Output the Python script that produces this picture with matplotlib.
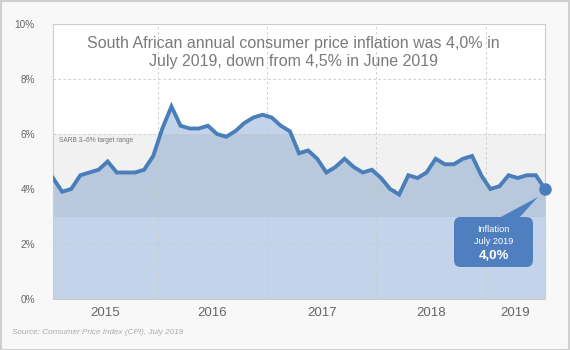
import matplotlib
matplotlib.use("Agg")
import matplotlib.pyplot as plt
from matplotlib.patches import Rectangle, FancyBboxPatch, Polygon
import numpy as np

plt.rcParams['font.family'] = ['Liberation Sans', 'DejaVu Sans']

# Monthly CPI inflation, Jan 2015 .. Jul 2019 (%)
months = [f"{y}-{m:02d}" for y in range(2015, 2020) for m in range(1, 13)][:55]
inflation = [4.4, 3.9, 4.0, 4.5, 4.6, 4.7, 5.0, 4.6, 4.6, 4.6, 4.7, 5.2,
             6.2, 7.0, 6.3, 6.2, 6.2, 6.3, 6.0, 5.9, 6.1, 6.4, 6.6, 6.7,
             6.6, 6.3, 6.1, 5.3, 5.4, 5.1, 4.6, 4.8, 5.1, 4.8, 4.6, 4.7,
             4.4, 4.0, 3.8, 4.5, 4.4, 4.6, 5.1, 4.9, 4.9, 5.1, 5.2, 4.5,
             4.0, 4.1, 4.5, 4.4, 4.5, 4.5, 4.0]
years = ["2015", "2016", "2017", "2018", "2019"]
yticks = [0, 2, 4, 6, 8, 10]
ytick_labels = ["0%", "2%", "4%", "6%", "8%", "10%"]
target_low, target_high = 3, 6

W, H = 570, 350
fig = plt.figure(figsize=(W / 100, H / 100), dpi=100)
fig.patch.set_facecolor('#f8f8f8')
fig.patches.append(Rectangle((0.5 / W, 0.5 / H), 1 - 1.5 / W, 1 - 1.5 / H,
                             transform=fig.transFigure, fill=False,
                             edgecolor='#cfcfcf', linewidth=1.5))

ax = fig.add_axes([53 / W, (H - 299) / H, (545 - 53) / W, (299 - 24) / H])
ax.set_facecolor('white')

x = np.arange(len(inflation))
ax.set_xlim(0, len(inflation) - 1)
ax.set_ylim(0, 10)

ax.fill_between(x, 0, inflation, color='#c3d4ea', zorder=1, linewidth=0)
ax.axhspan(target_low, target_high, color='#000000', alpha=0.055, zorder=2, linewidth=0)

# grid
for yv in yticks[1:-1]:
    ax.axhline(yv, color='#c8c8c8', linestyle=(0, (3, 3)), linewidth=0.6, zorder=2.5)
starts = [i for i, m in enumerate(months) if m.endswith("-01")]
for s in starts[1:]:
    ax.axvline(s - 0.5, color='#c8c8c8', linestyle=(0, (3, 3)), linewidth=0.6, zorder=2.5)

ax.plot(x, inflation, color='#4a7ebb', linewidth=2.8, zorder=4, solid_joinstyle='miter')
ax.scatter([x[-1]], [inflation[-1]], s=64, color='#4a7ebb', zorder=5, clip_on=False)

for sp in ax.spines.values():
    sp.set_color('#cccccc')
    sp.set_linewidth(0.8)

ax.set_yticks(yticks)
ax.set_yticklabels(ytick_labels, color='#666666', fontsize=7.2)
ax.tick_params(axis='y', length=0, pad=13)

# year labels centered over visible range of each year
centers = []
bounds = [s - 0.5 for s in starts] + [len(inflation) - 0.5]
for i in range(len(years)):
    lo = max(bounds[i], 0)
    hi = min(bounds[i + 1], len(inflation) - 1)
    centers.append((lo + hi) / 2)
ax.set_xticks(centers)
ax.set_xticklabels(years, color='#666666', fontsize=9.5)
ax.tick_params(axis='x', length=0, pad=6)

ax.text(0.488, 0.896, "South African annual consumer price inflation was 4,0% in\nJuly 2019, down from 4,5% in June 2019",
        transform=ax.transAxes, ha='center', va='center', fontsize=11.5, color='#7a7a7a',
        linespacing=1.2, zorder=6)
ax.text(0.013, 5.75, "SARB 3\u20136% target range", transform=ax.get_yaxis_transform(),
        ha='left', va='center', fontsize=4.8, color='#777777', zorder=6)

fig.text(12 / W, (H - 333) / H, "Source: Consumer Price Index (CPI), July 2019",
         ha='left', va='center', fontsize=5.9, color='#aaaaaa', style='italic')

# callout anchored to last point (pixel offsets)
fig.canvas.draw()
px, py = ax.transData.transform((x[-1], inflation[-1]))
col = '#4f7fbf'
def fp(dx, dy):
    return ((px + dx) / W, (py + dy) / H)
bx0, bx1 = px - 91, px - 12
by1, by0 = py - 28, py - 78
box = FancyBboxPatch(((bx0) / W, by0 / H), (bx1 - bx0) / W, (by1 - by0) / H,
                     boxstyle="round,pad=0,rounding_size=0.012",
                     transform=fig.transFigure, facecolor=col, edgecolor='none', zorder=10,
                     mutation_aspect=W / H)
fig.patches.append(box)
tri = Polygon([fp(-46, -29), fp(-26, -29), fp(-7, -8)], closed=True,
              transform=fig.transFigure, facecolor=col, edgecolor='none', zorder=10)
fig.patches.append(tri)
cx = (bx0 + bx1) / 2 / W
fig.text(cx, (py - 40) / H, "Inflation", ha='center', va='center', color='white', fontsize=6.6, zorder=11)
fig.text(cx, (py - 53) / H, "July 2019", ha='center', va='center', color='white', fontsize=6.6, zorder=11)
fig.text(cx, (py - 67) / H, f"{inflation[-1]:.1f}%".replace('.', ','), ha='center', va='center',
         color='white', fontsize=9.5, fontweight='bold', zorder=11)

fig.savefig("out.png", dpi=100, facecolor=fig.get_facecolor())
